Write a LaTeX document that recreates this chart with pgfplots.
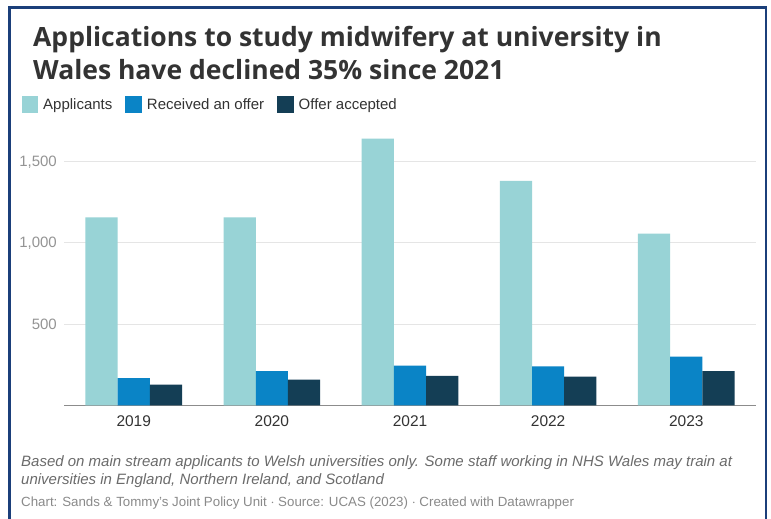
\documentclass[border=0pt]{standalone}
\usepackage{pgfplots}
\pgfplotsset{compat=1.18}
\usepackage{fontspec}
\setmainfont{Liberation Sans}
\newfontfamily\titlefont{Open Sans}
\definecolor{appc}{HTML}{98D3D6}
\definecolor{offc}{HTML}{0A84C6}
\definecolor{accc}{HTML}{143E55}
\definecolor{frame}{HTML}{1B3F7A}
\definecolor{txt}{HTML}{333333}
\definecolor{foot}{HTML}{6B6B6B}
\definecolor{foot2}{HTML}{8A8A8A}
\begin{document}
\begin{tikzpicture}[x=1pt,y=1pt]
\useasboundingbox (0,0) rectangle (771,519);
\clip (0,0) rectangle (771,519);
\fill[white] (0,0) rectangle (771,519);
% title
\node[anchor=base west, inner sep=0pt, text=txt, font=\titlefont\bfseries\fontsize{26.5}{30}\selectfont] at (33,472.3) {Applications to study midwifery at university in};
\node[anchor=base west, inner sep=0pt, text=txt, font=\titlefont\bfseries\fontsize{26.5}{30}\selectfont] at (33,439.7) {Wales have declined 35\% since 2021};
\begin{axis}[
  at={(64pt,113.5pt)}, anchor=south west,
  scale only axis, width=692pt, height=276.25pt,
  ybar=0pt, bar width=0.233,
  xmin=-0.505, xmax=4.505, ymin=0, ymax=1700,
  xtick={0,1,2,3,4}, xticklabels={2019,2020,2021,2022,2023},
  ytick={500,1000,1500},
  major tick length=0pt,
  axis x line=bottom, axis y line=left,
  x axis line style={-, draw=black!45, line width=0.9pt},
  y axis line style={draw=none},
  ymajorgrids, grid style={draw=black!10, line width=1pt},
  /pgf/number format/assume math mode=true,
  /pgf/number format/.cd, 1000 sep={,}, /pgfplots/.cd,
  yticklabel style={font=\fontsize{15}{18}\selectfont, text=black!42, inner sep=0pt, anchor=east, xshift=-7pt},
  xticklabel style={font=\fontsize{15.5}{18}\selectfont, text=txt, inner sep=0pt, anchor=north, yshift=-9.5pt},
  legend columns=3,
  legend style={at={(-0.0611,1.0889)}, anchor=west, draw=none, fill=none, inner sep=0pt, outer sep=0pt,
    font=\fontsize{15}{18}\selectfont, text=txt,
    nodes={inner sep=0pt},
    /tikz/every odd column/.append style={column sep=5pt},
    /tikz/every even column/.append style={column sep=13pt}},
  legend image code/.code={\fill[#1] (0pt,-8.25pt) rectangle (16.5pt,8.25pt);},
]
\addplot[draw=none, fill=appc] coordinates {(0,1158) (1,1158) (2,1642) (3,1382) (4,1057)};
\addplot[draw=none, fill=offc] coordinates {(0,169) (1,212) (2,245) (3,241) (4,300)};
\addplot[draw=none, fill=accc] coordinates {(0,128) (1,159) (2,182) (3,177) (4,212)};
\legend{Applicants, Received an offer, Offer accepted}
\end{axis}
% footer
\node[anchor=base west, inner sep=0pt, text=foot, font=\itshape\fontsize{15}{16}\selectfont] at (21,52) {Based on main stream applicants to Welsh universities only. Some staff working in NHS Wales may train at};
\node[anchor=base west, inner sep=0pt, text=foot, font=\itshape\fontsize{15}{16}\selectfont] at (21,34.5) {universities in England, Northern Ireland, and Scotland};
\node[anchor=base west, inner sep=0pt, text=foot2, font=\fontsize{13.3}{16}\selectfont] at (21,12.5) {Chart: Sands \& Tommy's Joint Policy Unit $\cdot$ Source: UCAS (2023) $\cdot$ Created with Datawrapper};
% frame
\draw[frame, line width=2.6pt] (9.3,-10) -- (9.3,511.3) -- (766,511.3) -- (766,-10);
\end{tikzpicture}
\end{document}
